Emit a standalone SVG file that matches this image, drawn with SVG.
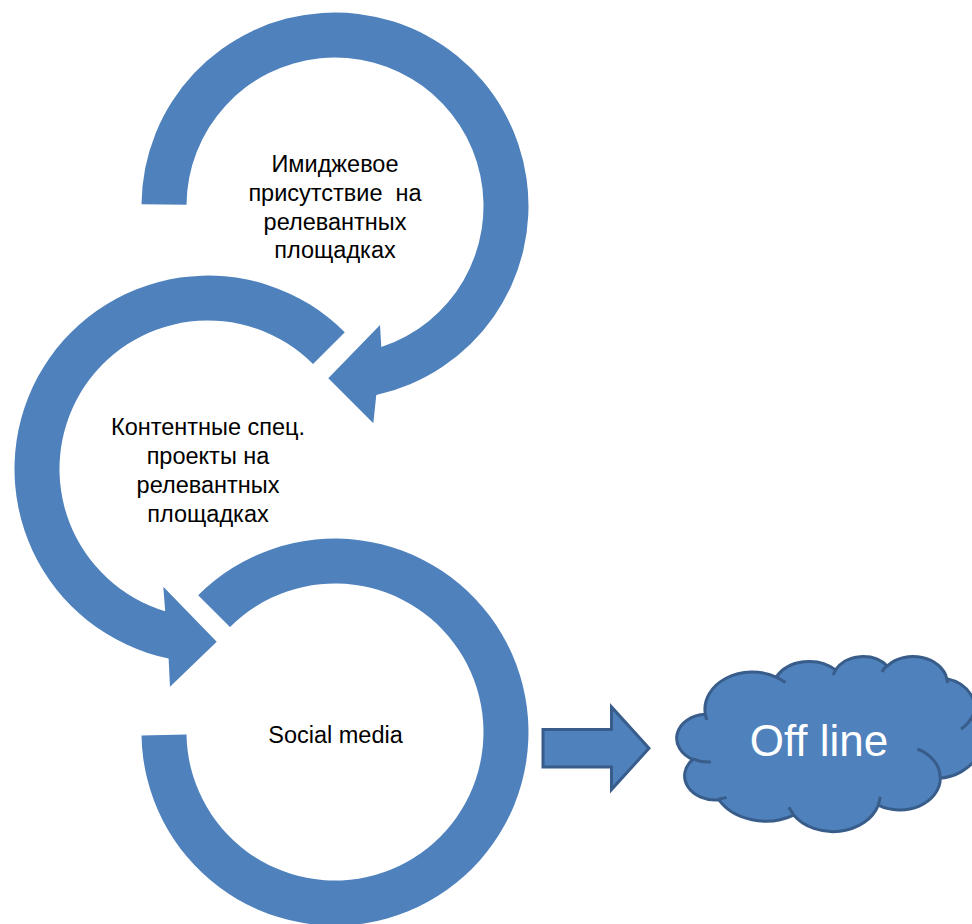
<svg xmlns="http://www.w3.org/2000/svg" width="972" height="924" viewBox="0 0 972 924">
<style>
.ring{fill:#4f81bd;stroke:none}
.lbl{font-family:"Liberation Sans",Arial,sans-serif;font-size:23.5px;fill:#000;text-anchor:middle}
.cloud{fill:#4f81bd;stroke:#385d8a;stroke-width:3;stroke-linejoin:round;vector-effect:non-scaling-stroke}
.cloudline{fill:none;stroke:#385d8a;stroke-width:3;vector-effect:non-scaling-stroke}
.blk{fill:#4f81bd;stroke:#385d8a;stroke-width:3;stroke-linejoin:miter}
</style>
<rect width="972" height="924" fill="#fff"/>
<g id="connectors">
<path id="arc1" class="ring" d="M141.5,204.3 A193.5,193.5 0 1 1 376.3,395 L373.3,423.3 L328.3,378.3 L380,325 L381.3,347.1 A148.5,148.5 0 1 0 186.5,204.7 Z"/>
<path id="arc2" class="ring" d="M344.8,332.2 A193.5,193.5 0 1 0 168.6,658.5 L170,686.7 L216.7,641.7 L163.3,586.7 L165.2,611.2 A148.5,148.5 0 1 1 313,364 Z"/>
<path id="arc3" class="ring" d="M141.5,735.4 A193.5,193.5 0 1 0 198.2,595.2 L230,627 A148.5,148.5 0 1 1 186.5,734.6 Z"/>
<path id="arrow" class="blk" d="M543,729.5 H611.5 V707 L649,748.3 L611.5,789.5 V767 H543 Z"/>
</g>
<g id="node1">
<text class="lbl" x="335" y="171.5">Имиджевое</text>
<text class="lbl" x="335" y="200.5" xml:space="preserve">присутствие  на</text>
<text class="lbl" x="335" y="229.5">релевантных</text>
<text class="lbl" x="335" y="258">площадках</text>
</g>
<g id="node2">
<text class="lbl" x="208" y="435">Контентные спец.</text>
<text class="lbl" x="208" y="464">проекты на</text>
<text class="lbl" x="208" y="493">релевантных</text>
<text class="lbl" x="208" y="522">площадках</text>
</g>
<g id="node3">
<text class="lbl" x="335.5" y="743.3">Social media</text>
</g>
<g id="node4">
<g transform="translate(678,656) scale(0.0070139,0.0040509)">
<path class="cloud" d="M3900,14370 A6753,9190 0 0 1 14005,5202 A5333,7267 0 0 1 22457,3433 A4365,5945 0 0 1 29834,2482 A4857,6595 0 0 1 38319,5578 A5333,7273 0 0 1 41819,15461 A6775,9220 0 0 1 37405,30205 A5785,7867 0 0 1 28556,36815 A6752,9215 0 0 1 16482,39268 A7720,10543 0 0 1 5806,35474 A4360,5918 0 0 1 2115,25552 A4345,5945 0 0 1 3900,14370 Z"/>
<path class="cloudline" d="M4693,26177 A4345,5945 0 0 1 2160,25380 M6928,34899 A4360,5918 0 0 1 5820,35280 M16478,39090 A6752,9215 0 0 1 15809,37348 M28827,34751 A6752,9215 0 0 1 28560,36660 M34129,22954 A5785,7867 0 0 1 37380,30090 M41798,15354 A5333,7273 0 0 1 40350,18030 M38324,5426 A4857,6595 0 0 1 38400,6690 M29078,3952 A4857,6595 0 0 1 29820,2339 M22141,4720 A4365,5945 0 0 1 22500,3330 M14000,5192 A6753,9190 0 0 1 15300,6541 M4127,15789 A6753,9190 0 0 1 3900,14370"/>
</g>
<text x="819" y="756" font-family="Liberation Sans,Arial,sans-serif" font-size="44" fill="#fff" text-anchor="middle">Off line</text>
</g>
</svg>
